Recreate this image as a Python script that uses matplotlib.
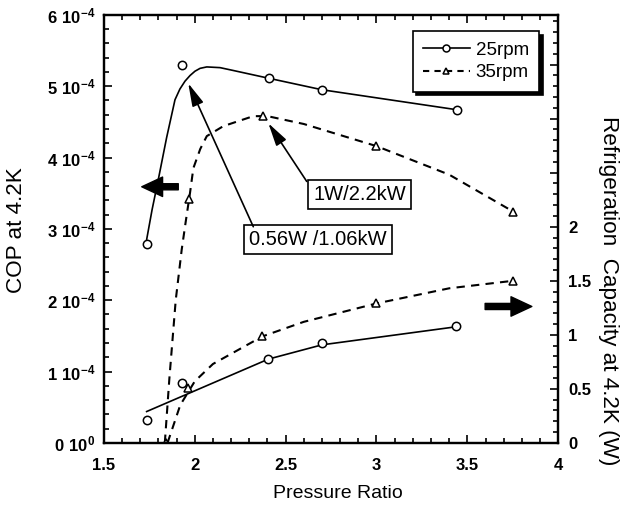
import matplotlib
matplotlib.use("Agg")
import matplotlib.pyplot as plt
from matplotlib.ticker import MultipleLocator, FixedLocator, FuncFormatter
from matplotlib.lines import Line2D

plt.rcParams['font.family'] = ['Liberation Sans', 'DejaVu Sans']
plt.rcParams['mathtext.fontset'] = 'custom'
plt.rcParams['mathtext.rm'] = 'Liberation Sans'
plt.rcParams['mathtext.bf'] = 'Liberation Sans:bold'

# x ticks
pr_ticks = [1.5, 2.0, 2.5, 3.0, 3.5, 4.0]

# COP (x1e-4) measured points
pr_cop25 = [1.735, 1.931, 2.409, 2.70, 3.442]
cop25 = [2.79, 5.29, 5.11, 4.95, 4.67]
pr_cop35 = [1.841, 1.970, 2.377, 2.998, 3.754]
cop35 = [0.0, 3.42, 4.58, 4.16, 3.24]

# COP fitted curves
pr_cop25_fit = [1.735, 1.765, 1.799, 1.845, 1.891, 1.918, 1.946, 1.974, 2.001,
                2.029, 2.066, 2.139, 2.212, 2.409, 2.70, 3.442]
cop25_fit = [2.85, 3.27, 3.69, 4.28, 4.81, 4.96, 5.07, 5.15, 5.21,
             5.25, 5.27, 5.26, 5.22, 5.11, 4.95, 4.67]
pr_cop35_fit = [1.835, 1.86, 1.895, 1.928, 1.95, 1.974, 1.992, 2.03, 2.066,
                2.157, 2.322, 2.40, 2.60, 3.0, 3.4, 3.754]
cop35_fit = [0.0, 0.9, 2.0, 2.71, 3.1, 3.51, 3.85, 4.12, 4.30,
             4.44, 4.58, 4.58, 4.47, 4.16, 3.76, 3.24]

# refrigeration capacity (W) measured points
pr_cap25 = [1.735, 1.928, 2.405, 2.70, 3.438]
cap25 = [0.213, 0.553, 0.778, 0.923, 1.077]
pr_cap35 = [1.841, 1.964, 2.372, 2.998, 3.754]
cap35 = [0.0, 0.506, 0.985, 1.29, 1.50]

# capacity fitted curves
pr_cap25_fit = [1.735, 2.405, 2.70, 3.438]
cap25_fit = [0.29, 0.775, 0.907, 1.074]
pr_cap35_fit = [1.85, 1.92, 2.0, 2.1, 2.372, 2.6, 3.0, 3.4, 3.754]
cap35_fit = [0.0, 0.35, 0.57, 0.73, 0.985, 1.12, 1.29, 1.43, 1.50]

fig = plt.figure(figsize=(6.3, 5.12), dpi=100)
ax = fig.add_axes([0.165, 0.135, 0.721, 0.836])
ax2 = ax.twinx()

lw = 1.2
ax.plot(pr_cop25_fit, [v * 1e-4 for v in cop25_fit], '-', color='black', lw=lw)
ax.plot(pr_cop25, [v * 1e-4 for v in cop25], 'o', mfc='white', mec='black', ms=6, mew=1.1)
ax.plot(pr_cop35_fit, [v * 1e-4 for v in cop35_fit], '--', color='black', lw=1.5, dashes=(4, 3))
ax.plot(pr_cop35, [v * 1e-4 for v in cop35], '^', mfc='white', mec='black', ms=5.5, mew=1.1)

ax2.plot(pr_cap25_fit, cap25_fit, '-', color='black', lw=lw)
ax2.plot(pr_cap25, cap25, 'o', mfc='white', mec='black', ms=6, mew=1.1)
ax2.plot(pr_cap35_fit, cap35_fit, '--', color='black', lw=1.5, dashes=(4, 3))
ax2.plot(pr_cap35, cap35, '^', mfc='white', mec='black', ms=5.5, mew=1.1)

ax.set_xlim(1.5, 4)
ax.set_ylim(0, 6e-4)
ax2.set_ylim(0, 3.96)

ax.xaxis.set_major_locator(FixedLocator(pr_ticks))
ax.xaxis.set_minor_locator(MultipleLocator(0.1))
ax.yaxis.set_major_locator(MultipleLocator(1e-4))
ax.yaxis.set_minor_locator(MultipleLocator(0.2e-4))
ax.xaxis.set_major_formatter(FuncFormatter(lambda v, p: f"{v:g}"))


def cop_fmt(v, p):
    n = int(round(v * 1e4))
    if n == 0:
        return r"$\mathbf{0\ 10^{0}}$"
    return r"$\mathbf{%d\ 10^{-4}}$" % n


ax.yaxis.set_major_formatter(FuncFormatter(cop_fmt))

ax2.yaxis.set_major_locator(FixedLocator([0, 0.5, 1, 1.5, 2, 2.5, 3, 3.5]))
ax2.yaxis.set_minor_locator(MultipleLocator(0.1))
ax2.yaxis.set_major_formatter(FuncFormatter(lambda v, p: f"{v:g}" if v <= 2 else ""))

ax.tick_params(which='both', direction='in', top=True, right=False, width=1.2)
ax.tick_params(which='major', length=6)
ax.tick_params(which='minor', length=3.5)
ax.tick_params(axis='x', pad=11, labelsize=12)
ax.tick_params(axis='y', pad=6, labelsize=12)
ax2.tick_params(which='both', direction='in', width=1.2, labelsize=12, pad=7)
ax2.tick_params(which='major', length=6)
ax2.tick_params(which='minor', length=3.5)
for lab in ax.get_xticklabels() + ax2.get_yticklabels():
    lab.set_fontweight('bold')

for sp in ax2.spines.values():
    sp.set_linewidth(1.6)
for sp in ax.spines.values():
    sp.set_linewidth(1.6)

ax.set_xlabel("Pressure Ratio", fontsize=14)
ax.xaxis.set_label_coords(0.516, -0.098)
ax.set_ylabel("COP at 4.2K", fontsize=16.2, va='center')
ax.yaxis.set_label_coords(-0.192, 0.497)
ax2.set_ylabel("Refrigeration  Capacity at 4.2K (W)", fontsize=16.2, rotation=270, va='center')
ax2.yaxis.set_label_coords(1.11, 0.355)

# legend
handles = [
    Line2D([], [], color='black', lw=lw, marker='o', mfc='white', mec='black', ms=5, mew=1.1),
    Line2D([], [], color='black', lw=1.5, ls='--', dashes=(3, 2.5), marker='^', mfc='white',
           mec='black', ms=5, mew=1.1),
]
leg = ax2.legend(handles, ["25rpm", "35rpm"], loc='upper right', bbox_to_anchor=(0.958, 0.962),
                 borderaxespad=0, fancybox=False, framealpha=1, edgecolor='black',
                 fontsize=13.5, handlelength=2.5, handletextpad=0.3, labelspacing=0.3,
                 borderpad=0.55, shadow={'color': 'black', 'alpha': 1, 'ox': 2.5, 'oy': -2.5})
leg.get_frame().set_linewidth(1.2)

# annotation boxes with arrows
box = dict(boxstyle='square,pad=0.25', fc='white', ec='black', lw=1.2)
ax.text(2.907, 3.48e-4, "1W/2.2kW", fontsize=14.5, ha='center', va='center', bbox=box)
ax.text(2.678, 2.85e-4, "0.56W /1.06kW", fontsize=14.5, ha='center', va='center', bbox=box)
thin = dict(arrowstyle='-|>,head_length=0.7,head_width=0.18', color='black', lw=1.2,
            shrinkA=0, shrinkB=0, mutation_scale=20)
ax.annotate("", xy=(2.405, 4.48e-4), xytext=(2.616, 3.665e-4), arrowprops=thin)
ax.annotate("", xy=(1.964, 5.04e-4), xytext=(2.322, 3.03e-4), arrowprops=thin)

# big axis arrows
big = dict(arrowstyle='simple,head_length=0.75,head_width=0.7,tail_width=0.22', color='black',
           shrinkA=0, shrinkB=0, mutation_scale=20)
ax.annotate("", xy=(1.708, 3.59e-4), xytext=(1.909, 3.59e-4), arrowprops=big)
ax2.annotate("", xy=(3.855, 1.262), xytext=(3.598, 1.262), arrowprops=big)

fig.savefig("out.png", dpi=100)
